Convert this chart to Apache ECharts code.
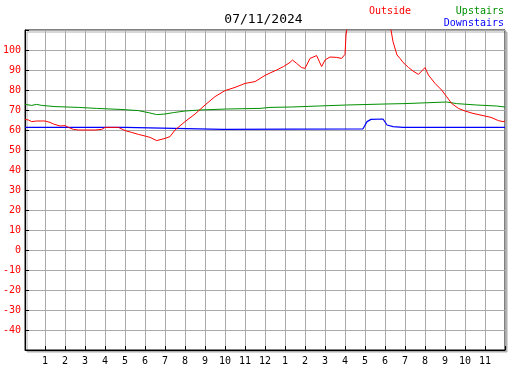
<!DOCTYPE html>
<html>
<head>
<meta charset="utf-8">
<script src="https://cdn.jsdelivr.net/npm/echarts@6/dist/echarts.min.js"></script>
<style>
  html, body { margin: 0; padding: 0; background: #fff; }
  #chart { width: 527px; height: 370px; }
</style>
</head>
<body>
<div id="chart"></div>
<script>
  // hours since midnight and temperatures
  var outHours = [0, 0.17, 0.33, 0.58, 1, 1.25, 1.42, 1.75, 2, 2.17, 2.42, 2.67, 3.5, 3.58, 3.83, 4, 4.67, 4.75, 5, 5.33,
    5.67, 6, 6.25, 6.58, 7, 7.25, 7.5, 8, 8.5, 9, 9.5, 10, 10.5, 11, 11.5, 12, 12.25, 12.58, 12.92, 13.25,
    13.37, 13.58, 13.83, 14, 14.25, 14.58, 14.83, 15, 15.25, 15.58, 15.83, 16, 16.05, 16.12, 16.5, 17, 17.5, 18, 18.3, 18.4,
    18.6, 18.75, 18.9, 19.17, 19.4, 19.67, 20, 20.17, 20.5, 20.83, 21.08, 21.33, 21.67, 22, 22.4, 22.9, 23.3, 23.67, 23.9, 24];
  var outTemps = [65.3, 65, 64.2, 64.5, 64.5, 63.8, 63, 62, 62.2, 61.3, 60.3, 60, 60, 59.5, 60.3, 61.3, 61.3, 60.3, 59.7, 58.8,
    57.8, 57, 56.3, 54.7, 55.8, 56.7, 60, 64.2, 68, 72.5, 76.7, 79.7, 81.3, 83.3, 84.2, 87.3, 88.5, 90, 91.7, 93.8,
    95, 93.3, 91.2, 90.8, 95.8, 97.2, 91.7, 95, 96.5, 96.3, 95.8, 97.8, 107.5, 112, 118, 122, 121, 116, 110, 104.2,
    97.5, 95.8, 93.8, 91.3, 89.5, 87.8, 91.2, 87.5, 83.3, 80, 76.7, 73.3, 70.8, 69.5, 68.3, 67.2, 66.3, 64.7, 64.2, 64.5];

  var upHours = [0, 0.33, 0.58, 0.83, 1.5, 2.67, 3.58, 4.75, 5.67, 6.25, 6.58, 7, 7.42, 8, 8.75,
    10.08, 11.75, 12.25, 13.33, 14.67, 16.08, 18, 19, 21.08, 21.58, 22.58, 23.58, 24];
  var upTemps = [72.8, 72.3, 72.8, 72.3, 71.7, 71.3, 70.8, 70.3, 69.7, 68.5, 67.7, 68, 68.7, 69.5, 70,
    70.5, 70.8, 71.3, 71.5, 72, 72.5, 73, 73.2, 74, 73.2, 72.5, 72, 71.5];

  var downHours = [0, 5, 5.1, 9.9, 10, 16.9, 17.1, 17.3, 17.9, 18.1, 18.4, 18.9, 19, 19.2, 24];
  var downTemps = [61.3, 61.3, 60.3, 60.3, 60.6, 60.6, 64.2, 65.3, 65.5, 62.5, 61.7, 61.3, 62.2, 61.3, 61.3];

  function pairs(xs, ys) {
    return xs.map(function (x, i) { return [x, ys[i]]; });
  }

  var mono = 'DejaVu Sans Mono';
  var chart = echarts.init(document.getElementById('chart'));
  chart.setOption({
    animation: false,
    backgroundColor: '#fff',
    title: [
      {text: '07/11/2024', left: 'center', top: 13, padding: 0,
        textStyle: {fontFamily: mono, fontSize: 13, fontWeight: 'normal', color: '#000'}},
      {text: 'Outside', left: 369, top: 6, padding: 0,
        textStyle: {fontFamily: mono, fontSize: 10, fontWeight: 'normal', color: '#ff0000'}},
      {text: 'Upstairs', right: 23, top: 6, padding: 0,
        textStyle: {fontFamily: mono, fontSize: 10, fontWeight: 'normal', color: '#009000'}},
      {text: 'Downstairs', right: 23, top: 18, padding: 0,
        textStyle: {fontFamily: mono, fontSize: 10, fontWeight: 'normal', color: '#0000ff'}}
    ],
    grid: {
      left: 25, top: 30, right: 22, bottom: 20,
      show: true,
      backgroundColor: '#fff',
      borderColor: '#000',
      borderWidth: 1,
      shadowColor: '#b0b0b0',
      shadowBlur: 0,
      shadowOffsetX: 2,
      shadowOffsetY: 2
    },
    xAxis: {
      type: 'value',
      min: 0,
      max: 24,
      interval: 1,
      axisLine: {onZero: false, lineStyle: {color: '#000'}},
      axisTick: {inside: true, length: 4, lineStyle: {color: '#000'}},
      splitLine: {show: true, lineStyle: {color: '#aaa'}},
      axisLabel: {
        margin: 6,
        color: '#000',
        fontFamily: mono,
        fontSize: 10,
        formatter: function (v) {
          if (v <= 0 || v >= 24) return '';
          return String(v % 12 === 0 ? 12 : v % 12);
        }
      }
    },
    yAxis: {
      type: 'value',
      min: -50,
      max: 110,
      interval: 10,
      axisLine: {show: true, onZero: false, lineStyle: {color: '#000'}},
      axisTick: {show: true, inside: true, length: 4, lineStyle: {color: '#000'}},
      splitLine: {show: true, lineStyle: {color: '#aaa'}},
      axisLabel: {
        margin: 4,
        color: '#ff0000',
        fontFamily: mono,
        fontSize: 10,
        formatter: function (v) {
          return (v <= -50 || v >= 110) ? '' : String(v);
        }
      }
    },
    series: [
      {name: 'Upstairs', type: 'line', showSymbol: false, data: pairs(upHours, upTemps),
        lineStyle: {color: '#009000', width: 1}},
      {name: 'Downstairs', type: 'line', showSymbol: false, data: pairs(downHours, downTemps),
        lineStyle: {color: '#0000ff', width: 1.2}},
      {name: 'Outside', type: 'line', showSymbol: false, data: pairs(outHours, outTemps),
        lineStyle: {color: '#ff0000', width: 1}}
    ]
  });
</script>
</body>
</html>
